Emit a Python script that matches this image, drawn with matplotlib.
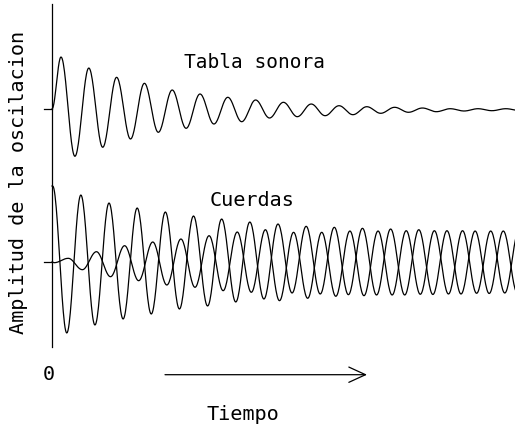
import numpy as np
import matplotlib
matplotlib.use("Agg")
import matplotlib.pyplot as plt

# time unit = one period of the soundboard oscillation
top_first = 0.324      # first extremum of the soundboard curve
top_half = 0.5         # half period
str_half = 0.5065      # half period of the strings
a_first = 0.025
b_first = 0.079
string_gap = -153      # baseline of the strings relative to the soundboard

# extremum values (alternating peak / trough)
tabla = [52, -47.3, 41, -38.3, 31.7, -30, 25.7, -23.3, 19, -19.3, 15, -15,
         11.7, -12.7, 9, -9, 6.7, -7.7, 5, -6.7, 3.3, -5.7, 2.3, -4.3,
         1.7, -3.3, 1, -2.7, 0.3, -2, 0.3, -1.7, 0.3, -1.5]
cuerda_a = [76, -71, 67, -63, 59, -57, 54, -52, 50, -47, 46, -44, 43, -40,
            40, -37, 38, -31, 35.7, -32, 34.7, -32.7, 33.7, -33, 33, -33,
            32.3, -32.5, 31.3, -32, 31, -31.5, 31, -31]
cuerda_b = [-0.7, 3.7, -7.7, 10.3, -14.7, 16.3, -18.7, 20, -23, 23, -25.3,
            26.3, -28.7, 30, -30.3, 32.3, -38.7, 29.7, -36.3, 29.7, -34.3,
            31, -33.7, 31, -33, 31.3, -32.3, 31.3, -32, 31.3, -31.3, 31, -31, 31]


def oscillation(values, first, half, start=None):
    times = first + half * np.arange(len(values))
    vals = list(values)
    if start is not None:
        times = np.concatenate([[0.0], times])
        vals = [start] + vals
    ts, ys = [], []
    for i in range(len(vals) - 1):
        s = np.linspace(0, 1, 24, endpoint=False)
        w = (1 + np.cos(np.pi * s)) / 2
        ts.append(times[i] + s * (times[i + 1] - times[i]))
        ys.append(vals[i] * w + vals[i + 1] * (1 - w))
    ts.append([times[-1]])
    ys.append([vals[-1]])
    return np.concatenate(ts), np.concatenate(ys)


fig = plt.figure(figsize=(5.15, 4.27), dpi=100)
ax = fig.add_axes([0, 0, 1, 1])
ax.axis("off")

scale = 27.8  # px per period
x0, y0 = 52, 110
ax.set_xlim(-x0 / scale, (515 - x0) / scale)
ax.set_ylim(y0 - 427, y0)


def px(x, y):
    return (x - x0) / scale, y0 - y


lw = 0.9
t, y = oscillation(tabla, top_first, top_half, start=0.0)
ax.plot(t, y, color="black", lw=lw)
t, y = oscillation(cuerda_a, a_first, str_half, start=76)
ax.plot(t, y + string_gap, color="black", lw=lw)
t, y = oscillation(cuerda_b, b_first, str_half, start=0.0)
ax.plot(t, y + string_gap, color="black", lw=lw)

# vertical axis and ticks
ax.plot(*zip(px(52, 5), px(52, 348)), color="black", lw=lw)
for base in (0, string_gap):
    ax.plot([-8 / scale, 0], [base, base], color="black", lw=lw)

font = dict(family="DejaVu Sans Mono", color="black")
ax.text(*px(254, 68), "Tabla sonora", ha="center", va="baseline",
        fontsize=14, **font)
ax.text(*px(252, 206.5), "Cuerdas", ha="center", va="baseline",
        fontsize=14.5, **font)
ax.text(*px(243, 420), "Tiempo", ha="center", va="baseline",
        fontsize=14.5, **font)
ax.text(*px(49, 375), "0", ha="center", va="center", fontsize=14.5, **font)
ax.text(*px(18.5, 182), "Amplitud de la oscilacion", ha="center", va="center",
        rotation=90, fontsize=14.5, **font)

ax.annotate("", xy=px(367, 375.7), xytext=px(165, 375.7),
            arrowprops=dict(arrowstyle="->,head_length=1.2,head_width=0.55",
                            mutation_scale=10, lw=lw, color="black",
                            shrinkA=0, shrinkB=0))

fig.savefig("out.png", dpi=100)
